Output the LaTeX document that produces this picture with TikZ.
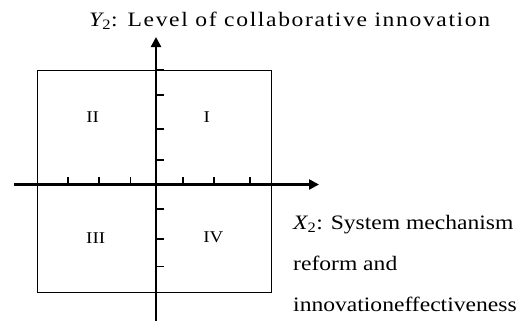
\documentclass[tikz,border=0pt]{standalone}
\usepackage{fontspec}
\setmainfont{Liberation Serif}[FakeStretch=1.15]
\usetikzlibrary{arrows.meta}
\begin{document}
\begin{tikzpicture}[x=1pt,y=-1pt,
  axisline/.style={line width=2.4pt,-{Triangle[length=10pt,width=10pt]}},
  tickmark/.style={line width=1.6pt},
  frame/.style={line width=0.9pt},
  numeral/.style={font=\fontsize{16.5}{16.5}\selectfont,inner sep=0pt},
  caption/.style={font=\fontsize{20.5}{20.5}\selectfont,inner sep=0pt,anchor=base west}]
  \useasboundingbox (0,0) rectangle (524,322);
  % quadrant frame
  \draw[frame] (37.5,70) rectangle (271,292);
  % axes
  \coordinate (xl) at (14,184.5);
  \coordinate (xr) at (319,184.5);
  \coordinate (yb) at (156,321);
  \coordinate (yt) at (156,37);
  \draw[axisline] (xl) -- (xr);
  \draw[axisline] (yb) -- (yt);
  % tick marks
  \foreach \x in {67.7,99,130.3,182.7,213.7,250}
    \draw[tickmark] (\x,184.5) -- (\x,177);
  \foreach \y in {70,95,129,159.7,208.7,239,266.3}
    \draw[tickmark] (156,\y) -- (164,\y);
  % quadrant numerals
  \node[numeral] (q1) at (206.7,116.7) {I};
  \node[numeral] (q2) at (92.7,116.7) {II};
  \node[numeral] (q3) at (95.7,237.7) {III};
  \node[numeral] (q4) at (213.3,237.7) {IV};
  % axis captions
  \node[caption] (ylab) at (89,26) {\addfontfeature{LetterSpace=8}{\itshape Y}\textsubscript{2}: Level of collaborative innovation};
  \node[caption] (xlab1) at (293,229) {{\itshape X}\textsubscript{2}: System mechanism};
  \node[caption] (xlab2) at (293,270) {reform and};
  \node[caption] (xlab3) at (293,311) {innovationeffectiveness};
\end{tikzpicture}
\end{document}
